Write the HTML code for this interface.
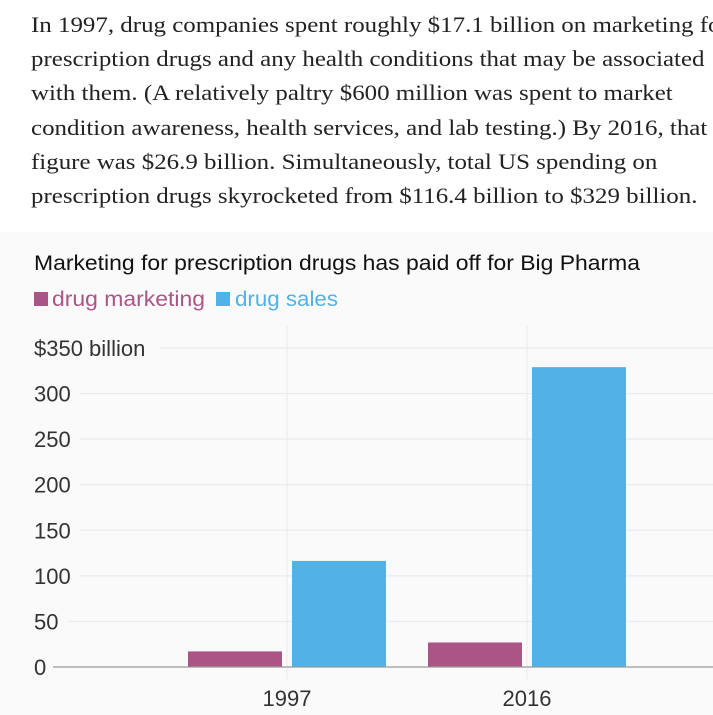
<!DOCTYPE html>
<html><head><meta charset="utf-8">
<style>
body{margin:0;width:713px;height:715px;overflow:hidden;background:#fff;}
#txt{position:absolute;left:31px;top:8px;width:700px;font-family:"Liberation Serif",serif;font-size:22px;line-height:34.2px;color:#222;white-space:nowrap;transform:scaleX(1.133);transform-origin:0 0;}
#chartwrap{position:absolute;left:0;top:232px;width:713px;height:483px;background:#fafafa;}
svg text{font-family:"Liberation Sans",sans-serif;}
</style></head><body>
<div id="txt">In 1997, drug companies spent roughly $17.1 billion on marketing for<br>prescription drugs and any health conditions that may be associated<br>with them. (A relatively paltry $600 million was spent to market<br>condition awareness, health services, and lab testing.) By 2016, that<br>figure was $26.9 billion. Simultaneously, total US spending on<br>prescription drugs skyrocketed from $116.4 billion to $329 billion.</div>
<div id="chartwrap"></div>
<svg id="chart" width="713" height="715" style="position:absolute;left:0;top:0">
<text x="34" y="270" font-size="21" fill="#111" textLength="606" lengthAdjust="spacingAndGlyphs">Marketing for prescription drugs has paid off for Big Pharma</text>
<g>
<rect x="34" y="292" width="14" height="14" fill="#ab5587"/>
<text x="52" y="306" font-size="21" fill="#ab5587" textLength="153" lengthAdjust="spacingAndGlyphs">drug marketing</text>
<rect x="216" y="292" width="14" height="14" fill="#51b2e5"/>
<text x="235" y="306" font-size="21" fill="#51b2e5" textLength="103" lengthAdjust="spacingAndGlyphs">drug sales</text>
</g>
<g id="grid"></g><g id="bars"></g><g id="axes"></g>
</svg>
<script>
const categories=["1997","2016"];
const marketing=[17.1,26.9];
const sales=[116.4,329];
const yTicks=[0,50,100,150,200,250,300,350];
const yTickLabels=["0","50","100","150","200","250","300","$350 billion"];
const NS="http://www.w3.org/2000/svg";
const y0=667,y1=348,yMax=350;
function y(v){return y0-(v/yMax)*(y0-y1);}
function xc(i){return 287+i*240;}
function mk(tag,attrs,parent){const e=document.createElementNS(NS,tag);for(const k in attrs)e.setAttribute(k,attrs[k]);parent.appendChild(e);return e;}
const grid=document.getElementById('grid'),bars=document.getElementById('bars'),axes=document.getElementById('axes');
categories.forEach((c,i)=>{
  const l=mk('line',{x1:xc(i),x2:xc(i),y1:326,y2:680,stroke:'#ebebeb','stroke-width':1},grid);
  
  
  const t=mk('text',{x:xc(i),y:706,'font-size':22,fill:'#333','text-anchor':'middle'},axes);
  t.textContent=c;
  
  
});
yTicks.forEach((v,i)=>{
  if(v>0){
    const startX=i===yTicks.length-1?160:(v>=100?80:68);
    const l=mk('line',{x1:startX,x2:713,y1:y(v),y2:y(v),stroke:'#ebebeb','stroke-width':1.2},grid);
    
    
  }
  const t=mk('text',{x:34,y:y(v)+8,'font-size':22,fill:'#333'},axes);
  t.textContent=yTickLabels[i];
  
  
});
categories.forEach((c,i)=>{
  const b1=mk('rect',{x:xc(i)-99,y:y(marketing[i]),width:94,height:y0-y(marketing[i]),fill:'#ab5587'},bars);
  
  
  const b2=mk('rect',{x:xc(i)+5,y:y(sales[i]),width:94,height:y0-y(sales[i]),fill:'#51b2e5'},bars);
  
  
});
const base=mk('line',{x1:53,x2:713,y1:y0,y2:y0,stroke:'#999','stroke-width':1.2},axes);


</script>
</body></html>
